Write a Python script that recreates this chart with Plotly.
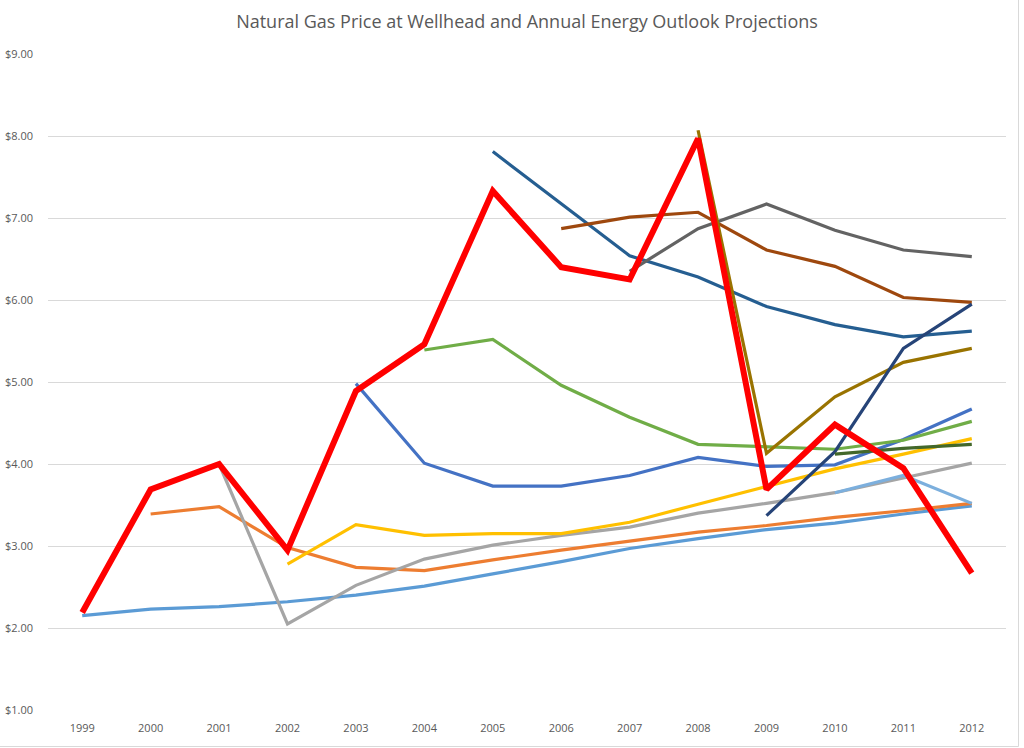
import plotly.graph_objects as go

years = [str(y) for y in range(1999, 2013)]

actual = [2.19, 3.69, 4.00, 2.95, 4.89, 5.46, 7.33, 6.40, 6.25, 7.97, 3.69, 4.48, 3.95, 2.67]

aeo = {
    "AEO1999": [2.15, 2.23, 2.26, 2.32, 2.40, 2.51, 2.66, 2.81, 2.97, 3.09, 3.20, 3.28, 3.39, 3.49],
    "AEO2000": [None, 3.39, 3.48, 2.98, 2.74, 2.70, 2.83, 2.95, 3.06, 3.17, 3.25, 3.35, 3.43, 3.52],
    "AEO2001": [None, None, 4.00, 2.05, 2.52, 2.84, 3.01, 3.13, 3.23, 3.40, 3.52, 3.65, 3.83, 4.01],
    "AEO2002": [None, None, None, 2.78, 3.26, 3.13, 3.15, 3.15, 3.29, 3.51, 3.72, 3.94, 4.12, 4.31],
    "AEO2003": [None, None, None, None, 4.98, 4.01, 3.73, 3.73, 3.86, 4.08, 3.97, 3.99, 4.30, 4.67],
    "AEO2004": [None, None, None, None, None, 5.39, 5.52, 4.96, 4.57, 4.24, 4.21, 4.18, 4.29, 4.52],
    "AEO2005": [None, None, None, None, None, None, 7.81, 7.17, 6.54, 6.28, 5.92, 5.70, 5.55, 5.62],
    "AEO2006": [None, None, None, None, None, None, None, 6.87, 7.01, 7.07, 6.61, 6.41, 6.03, 5.97],
    "AEO2007": [None, None, None, None, None, None, None, None, 6.35, 6.87, 7.17, 6.85, 6.61, 6.53],
    "AEO2008": [None, None, None, None, None, None, None, None, None, 8.07, 4.13, 4.82, 5.24, 5.41],
    "AEO2009": [None, None, None, None, None, None, None, None, None, None, 3.37, 4.15, 5.41, 5.95],
    "AEO2010": [None, None, None, None, None, None, None, None, None, None, None, 3.65, 3.86, 3.52],
    "AEO2011": [None, None, None, None, None, None, None, None, None, None, None, 4.12, 4.19, 4.24],
}

colors = {
    "AEO1999": "#5B9BD5", "AEO2000": "#ED7D31", "AEO2001": "#A5A5A5", "AEO2002": "#FFC000",
    "AEO2003": "#4472C4", "AEO2004": "#70AD47", "AEO2005": "#255E91", "AEO2006": "#9E480E",
    "AEO2007": "#636363", "AEO2008": "#997300", "AEO2009": "#264478", "AEO2010": "#7CAFDD",
    "AEO2011": "#43682B",
}

y_ticks = [1, 2, 3, 4, 5, 6, 7, 8, 9]
y_ticktext = ["$%.2f" % v for v in y_ticks]

fig = go.Figure()
for name, vals in aeo.items():
    fig.add_trace(go.Scatter(x=years, y=vals, mode="lines", name=name,
                             line=dict(color=colors[name], width=3.2), connectgaps=False))
fig.add_trace(go.Scatter(x=years, y=actual, mode="lines", name="Wellhead price",
                         line=dict(color="#FF0000", width=6)))

W, H = 1024, 748
L, R, T, B = 48, 18, 54, 38
pw, ph = W - L - R, H - T - B

def px(x):
    return (x - L) / pw

def py(y):
    return (H - B - y) / ph

# right and bottom chart border
fig.add_shape(type="line", xref="paper", yref="paper",
              x0=px(1018.5), x1=px(1018.5), y0=py(0), y1=py(746.5),
              line=dict(color="#D9D9D9", width=1), layer="below")
fig.add_shape(type="line", xref="paper", yref="paper",
              x0=px(0), x1=px(1018.5), y0=py(746.5), y1=py(746.5),
              line=dict(color="#D9D9D9", width=1), layer="below")

fig.update_layout(
    width=W, height=H,
    margin=dict(l=L, r=R, t=T, b=B, autoexpand=False),
    paper_bgcolor="white", plot_bgcolor="white",
    showlegend=False,
    title=dict(text="Natural Gas Price at Wellhead and Annual Energy Outlook Projections",
               x=0.5, xref="paper", xanchor="center", y=1 - 22 / H, yanchor="middle",
               font=dict(family="Open Sans", size=18, color="#595959")),
    font=dict(family="Open Sans", size=11, color="#595959"),
)
fig.update_xaxes(type="category", range=[-0.5, 13.5], showgrid=False, showline=False,
                 ticks="", tickfont=dict(size=11, color="#595959"), zeroline=False,
                 ticklabelstandoff=10, automargin=False)
fig.update_yaxes(range=[1, 9], tickvals=y_ticks, ticktext=y_ticktext, showgrid=True,
                 gridcolor="#D9D9D9", gridwidth=1, zeroline=False, showline=False, ticks="",
                 tickfont=dict(size=11, color="#595959"), ticklabelstandoff=14,
                 automargin=False)

fig.write_html("out.html", post_script="document.body.style.margin='0';",
               config={"displayModeBar": False})
